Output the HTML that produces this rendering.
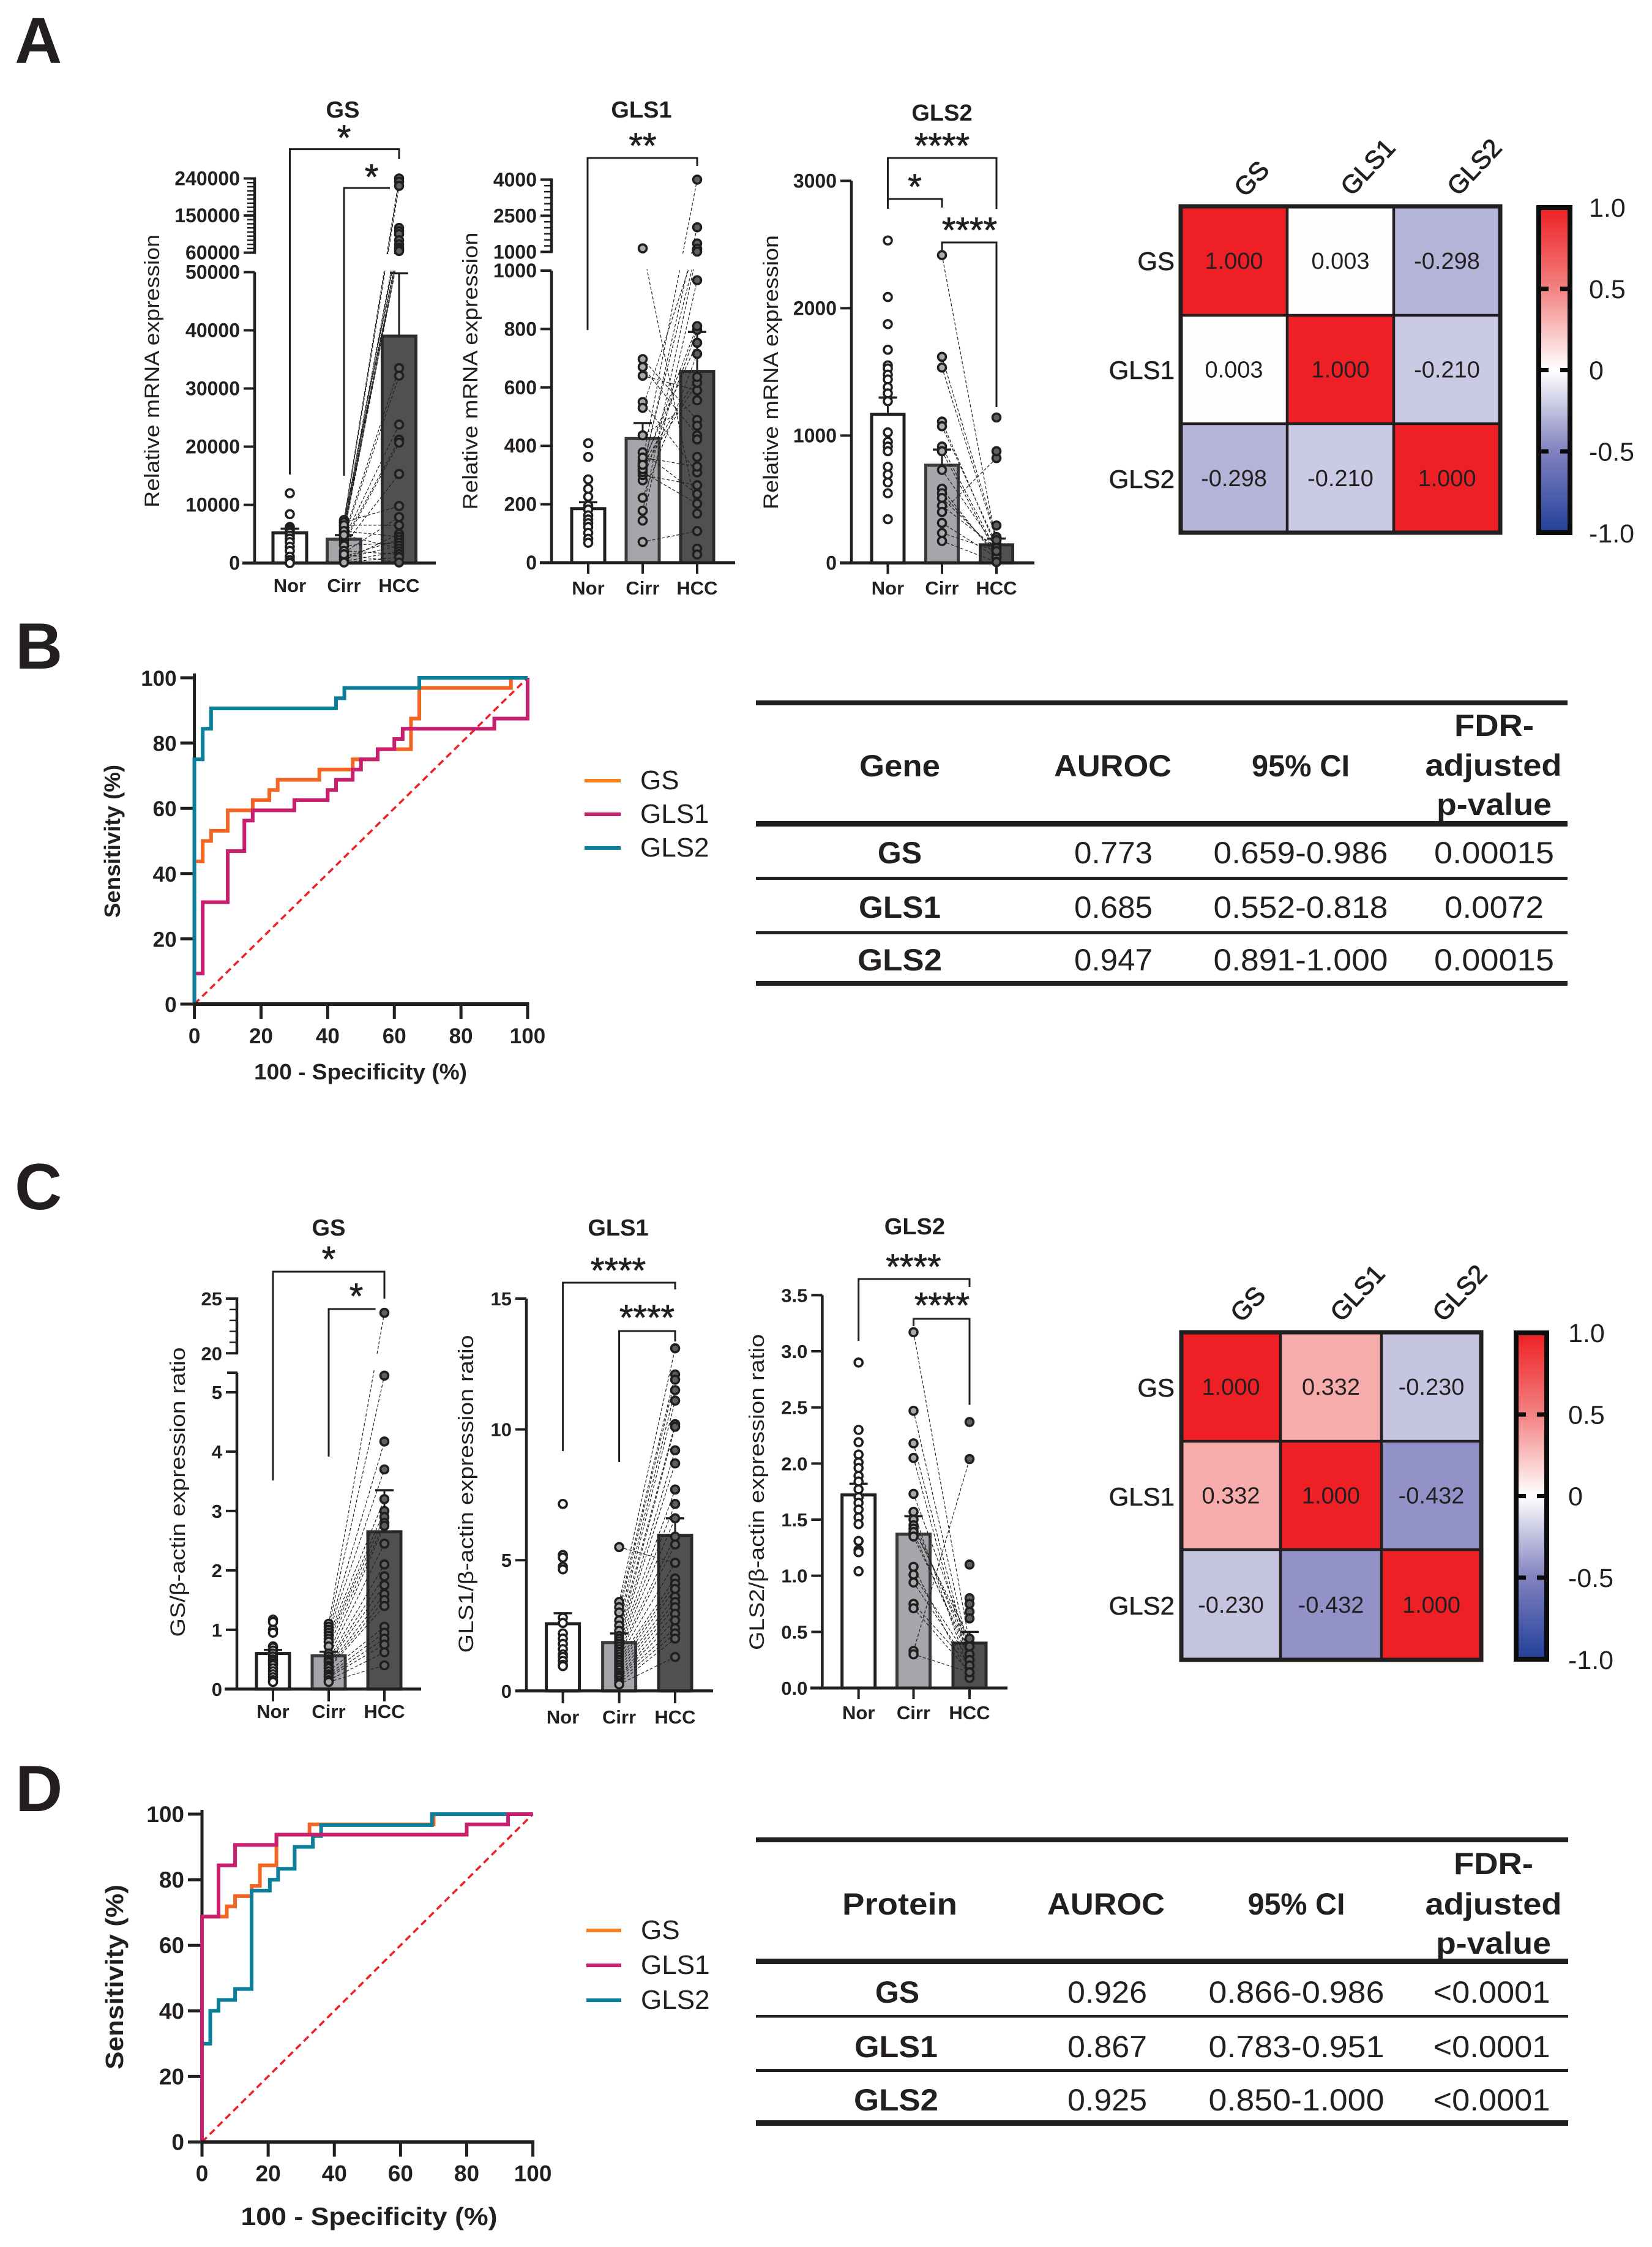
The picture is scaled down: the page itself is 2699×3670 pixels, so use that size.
<!DOCTYPE html>
<html lang="en">
<head>
<meta charset="utf-8">
<title>GS, GLS1 and GLS2 expression figure</title>
<style>
html,body{margin:0;padding:0;background:#fff;}
svg{display:block;font-family:"Liberation Sans",Arial,sans-serif;fill:#231f20;}
</style>
</head>
<body>
<svg id="figure" xmlns="http://www.w3.org/2000/svg" width="2699" height="3670" viewBox="0 0 2699 3670">
<defs>
<linearGradient id="cbar" x1="0" y1="0" x2="0" y2="1">
<stop offset="0" stop-color="#ed2024"/><stop offset="0.25" stop-color="#f38282"/><stop offset="0.5" stop-color="#ffffff"/><stop offset="0.75" stop-color="#8181bf"/><stop offset="1" stop-color="#21409a"/>
</linearGradient>
</defs>
<rect x="0" y="0" width="2699" height="3670" fill="#fff"/>

<text x="24" y="103" font-size="107" font-weight="700">A</text>
<text x="25" y="1092" font-size="107" font-weight="700">B</text>
<text x="24" y="1975" font-size="107" font-weight="700">C</text>
<text x="25" y="2958" font-size="107" font-weight="700">D</text>

<g font-size="44">
<rect x="955" y="1272" width="59" height="6" fill="#f58220"/>
<text x="1046" y="1289">GS</text>
<rect x="955" y="1327" width="59" height="6" fill="#c81e6e"/>
<text x="1046" y="1344">GLS1</text>
<rect x="955" y="1382" width="59" height="6" fill="#0b7f9a"/>
<text x="1046" y="1399">GLS2</text>
</g>
<g font-size="44">
<rect x="958" y="3150" width="57" height="6" fill="#f58220"/>
<text x="1047" y="3167">GS</text>
<rect x="958" y="3207" width="57" height="6" fill="#c81e6e"/>
<text x="1047" y="3224">GLS1</text>
<rect x="958" y="3264" width="57" height="6" fill="#0b7f9a"/>
<text x="1047" y="3281">GLS2</text>
</g>

<g text-anchor="middle" font-size="50">
<rect x="1235" y="1144" width="1326" height="8"/>
<rect x="1235" y="1341" width="1326" height="9"/>
<rect x="1235" y="1432" width="1326" height="5"/>
<rect x="1235" y="1521" width="1326" height="5"/>
<rect x="1235" y="1602" width="1326" height="8"/>
<g font-weight="700">
<text x="1470" y="1268" textLength="132" lengthAdjust="spacingAndGlyphs">Gene</text>
<text x="1818" y="1268" textLength="192" lengthAdjust="spacingAndGlyphs">AUROC</text>
<text x="2125" y="1268" textLength="160" lengthAdjust="spacingAndGlyphs">95% CI</text>
<text x="2441" y="1202" textLength="130" lengthAdjust="spacingAndGlyphs">FDR-</text>
<text x="2440" y="1267" textLength="223" lengthAdjust="spacingAndGlyphs">adjusted</text>
<text x="2441" y="1331" textLength="188" lengthAdjust="spacingAndGlyphs">p-value</text>
<text x="1470" y="1410">GS</text>
<text x="1470" y="1499" textLength="134" lengthAdjust="spacingAndGlyphs">GLS1</text>
<text x="1470" y="1585" textLength="138" lengthAdjust="spacingAndGlyphs">GLS2</text>
</g>
<text x="1819" y="1410" textLength="128" lengthAdjust="spacingAndGlyphs">0.773</text>
<text x="2125" y="1410" textLength="285" lengthAdjust="spacingAndGlyphs">0.659-0.986</text>
<text x="2441" y="1410" textLength="196" lengthAdjust="spacingAndGlyphs">0.00015</text>
<text x="1819" y="1499" textLength="128" lengthAdjust="spacingAndGlyphs">0.685</text>
<text x="2125" y="1499" textLength="285" lengthAdjust="spacingAndGlyphs">0.552-0.818</text>
<text x="2441" y="1499" textLength="162" lengthAdjust="spacingAndGlyphs">0.0072</text>
<text x="1819" y="1585" textLength="128" lengthAdjust="spacingAndGlyphs">0.947</text>
<text x="2125" y="1585" textLength="285" lengthAdjust="spacingAndGlyphs">0.891-1.000</text>
<text x="2441" y="1585" textLength="196" lengthAdjust="spacingAndGlyphs">0.00015</text>
</g>

<g text-anchor="middle" font-size="50">
<rect x="1235" y="3001" width="1327" height="8"/>
<rect x="1235" y="3199" width="1327" height="9"/>
<rect x="1235" y="3291" width="1327" height="4.5"/>
<rect x="1235" y="3379" width="1327" height="5"/>
<rect x="1235" y="3463" width="1327" height="9"/>
<g font-weight="700">
<text x="1470" y="3127" textLength="188" lengthAdjust="spacingAndGlyphs">Protein</text>
<text x="1807" y="3127" textLength="192" lengthAdjust="spacingAndGlyphs">AUROC</text>
<text x="2118" y="3127" textLength="159" lengthAdjust="spacingAndGlyphs">95% CI</text>
<text x="2440" y="3061" textLength="130" lengthAdjust="spacingAndGlyphs">FDR-</text>
<text x="2440" y="3127" textLength="223" lengthAdjust="spacingAndGlyphs">adjusted</text>
<text x="2440" y="3191" textLength="188" lengthAdjust="spacingAndGlyphs">p-value</text>
<text x="1466" y="3271">GS</text>
<text x="1464" y="3360" textLength="136" lengthAdjust="spacingAndGlyphs">GLS1</text>
<text x="1464" y="3447" textLength="138" lengthAdjust="spacingAndGlyphs">GLS2</text>
</g>
<text x="1809" y="3271" textLength="130" lengthAdjust="spacingAndGlyphs">0.926</text>
<text x="2118" y="3271" textLength="287" lengthAdjust="spacingAndGlyphs">0.866-0.986</text>
<text x="2437" y="3271" textLength="191" lengthAdjust="spacingAndGlyphs">&lt;0.0001</text>
<text x="1809" y="3360" textLength="130" lengthAdjust="spacingAndGlyphs">0.867</text>
<text x="2118" y="3360" textLength="287" lengthAdjust="spacingAndGlyphs">0.783-0.951</text>
<text x="2437" y="3360" textLength="191" lengthAdjust="spacingAndGlyphs">&lt;0.0001</text>
<text x="1809" y="3447" textLength="130" lengthAdjust="spacingAndGlyphs">0.925</text>
<text x="2118" y="3447" textLength="287" lengthAdjust="spacingAndGlyphs">0.850-1.000</text>
<text x="2437" y="3447" textLength="191" lengthAdjust="spacingAndGlyphs">&lt;0.0001</text>
</g>
</svg>
<script>
/* ---------- data ---------- */
const categories = ['Nor', 'Cirr', 'HCC'];
const genes = ['GS', 'GLS1', 'GLS2'];

const aGsTicksLower = [0, 10000, 20000, 30000, 40000, 50000];
const aGsTicksUpper = [60000, 150000, 240000];
const aGsMeans = [5200, 4100, 39000];
const aGsErrs = [5900, 4800, 49800];
const aGsNor = [12000, 8400, 6200, 5900, 5600, 5200, 4700, 4200, 3600, 2800, 2100, 1100, 500, 100, 0];
const aGsCirr = [7400, 7200, 7000, 6800, 6500, 6300, 6000, 5800, 5500, 5200, 5000, 4800, 4400, 4200, 3800, 3400, 3100, 7000, 1800, 6500, 500, 5500, 1100, 3000, 800, 4800, 300, 2100, 100, 1500];
const aGsHcc = [240000, 232000, 222000, 120000, 112000, 105000, 90000, 80000, 72000, 68000, 64000, 33500, 32200, 23800, 21200, 20700, 15300, 9800, 7900, 6500, 5000, 4500, 4000, 3500, 3000, 2500, 2000, 1500, 1000, 100];

const aGls1TicksLower = [0, 200, 400, 600, 800, 1000];
const aGls1TicksUpper = [1000, 2500, 4000];
const aGls1Means = [185, 425, 655];
const aGls1Errs = [207, 478, 790];
const aGls1Nor = [409, 362, 285, 253, 226, 195, 182, 162, 148, 135, 122, 102, 82, 68];
const aGls1Cirr = [1146, 697, 670, 640, 550, 530, 436, 378, 349, 329, 316, 282, 222, 178, 144, 71, 300, 330, 340, 360, 310, 320, 335];
const aGls1Hcc = [168, 489, 436, 590, 309, 1350, 556, 235, 4000, 1130, 2020, 797, 715, 1010, 967, 108, 265, 810, 753, 329, 202, 616, 636, 469, 422, 362, 48, 28];

const aGls2Ticks = [0, 1000, 2000, 3000];
const aGls2Means = [1167, 767, 142];
const aGls2Errs = [1299, 890, 191];
const aGls2Nor = [2532, 2088, 1875, 1674, 1551, 1527, 1478, 1441, 1380, 1331, 1270, 1025, 951, 914, 877, 755, 694, 632, 547, 343];
const aGls2Cirr = [2417, 1618, 1534, 1110, 1073, 914, 877, 730, 583, 547, 510, 449, 400, 314, 235, 172];
const aGls2Hcc = [150, 203, 179, 118, 142, 93, 69, 118, 44, 69, 93, 118, 823, 44, 93, 7, 1142, 877, 294, 203, 179];

const cGsTicksLower = [0, 1, 2, 3, 4, 5];
const cGsTicksUpper = [20, 25];
const cGsMeans = [0.6, 0.56, 2.65];
const cGsErrs = [0.66, 0.63, 3.35];
const cGsNor = [1.17, 1.13, 1.0, 0.95, 0.72, 0.7, 0.65, 0.6, 0.55, 0.5, 0.47, 0.43, 0.4, 0.35, 0.3, 0.25, 0.2, 0.15, 0.12];
const cGsCirr = [1.1, 1.05, 1.0, 0.95, 0.9, 0.85, 0.8, 0.72, 0.6, 0.55, 0.5, 0.47, 0.45, 0.4, 0.37, 0.35, 0.3, 0.25, 0.22, 0.2, 0.15, 0.12];
const cGsHcc = [23.7, 5.28, 4.17, 3.7, 3.2, 3.0, 2.9, 2.8, 2.75, 2.45, 2.1, 1.9, 1.75, 1.6, 1.5, 1.4, 1.05, 0.95, 0.85, 0.75, 0.62, 0.4];

const cGls1Ticks = [0, 5, 10, 15];
const cGls1Means = [2.57, 1.85, 5.95];
const cGls1Errs = [2.97, 2.2, 6.6];
const cGls1Nor = [7.15, 5.2, 5.1, 4.75, 4.65, 2.8, 2.6, 2.2, 2.0, 1.8, 1.6, 1.4, 1.3, 1.15, 1.0, 0.95];
const cGls1Cirr = [3.4, 3.2, 3.0, 2.7, 2.5, 2.3, 2.1, 2.0, 1.9, 1.8, 1.7, 1.6, 1.5, 1.4, 1.3, 1.2, 1.1, 1.0, 0.9, 5.5, 0.8, 0.7, 0.6, 0.55, 0.5, 0.4, 0.3, 0.25];
const cGls1Hcc = [13.1, 12.1, 11.9, 11.5, 11.1, 10.2, 10.1, 9.2, 8.7, 7.7, 7.15, 6.6, 5.9, 5.6, 4.9, 4.3, 4.1, 3.9, 3.6, 4.9, 3.4, 3.2, 2.95, 2.7, 2.4, 2.2, 2.0, 1.3];

const cGls2Ticks = [0, 0.5, 1, 1.5, 2, 2.5, 3, 3.5];
const cGls2TickLabels = ['0.0', '0.5', '1.0', '1.5', '2.0', '2.5', '3.0', '3.5'];
const cGls2Means = [1.72, 1.37, 0.4];
const cGls2Errs = [1.82, 1.53, 0.5];
const cGls2Nor = [2.9, 2.3, 2.19, 2.08, 2.01, 1.96, 1.89, 1.84, 1.77, 1.7, 1.65, 1.59, 1.52, 1.46, 1.31, 1.23, 1.21, 1.04];
const cGls2Cirr = [3.17, 2.47, 2.18, 2.05, 1.73, 1.57, 1.5, 1.45, 1.42, 1.39, 1.35, 1.08, 1.01, 0.94, 0.75, 0.71, 0.33, 0.3];
const cGls2Hcc = [0.4, 0.3, 0.25, 0.2, 0.37, 0.14, 0.3, 0.37, 0.44, 0.25, 0.3, 0.09, 0.25, 0.2, 0.2, 0.14, 2.04, 0.14, 2.37, 1.1, 0.8, 0.75, 0.68, 0.62];

const rocTicks = [0, 20, 40, 60, 80, 100];
const bGsX = [0, 2.5, 5, 10, 17.5, 22.5, 25, 37.5, 47.5, 55, 65, 67.5, 95, 100];
const bGsY = [43.75, 50, 53.125, 59.375, 62.5, 65.625, 68.75, 71.875, 75, 78.125, 87.5, 96.875, 100, 100];
const bGls1X = [0, 2.5, 10, 15, 17.5, 30, 40, 42.5, 47.5, 50, 55, 60, 62.5, 90, 100];
const bGls1Y = [9.375, 31.25, 46.875, 56.25, 59.375, 62.5, 65.625, 68.75, 71.875, 75, 78.125, 81.25, 84.375, 87.5, 100];
const bGls2X = [0, 2.5, 5, 42.5, 45, 67.5, 100];
const bGls2Y = [75, 84.375, 90.625, 93.75, 96.875, 100, 100];
const dGsX = [0, 7.5, 10, 15, 17.5, 22.5, 32.5, 70, 100];
const dGsY = [68.75, 71.875, 75, 78.125, 84.375, 93.75, 96.875, 100, 100];
const dGls1X = [0, 5, 10, 22.5, 80, 92.5, 100];
const dGls1Y = [68.75, 84.375, 90.625, 93.75, 96.875, 100, 100];
const dGls2X = [0, 2.5, 5, 10, 15, 20.5, 23, 28, 33.5, 36, 69.5, 100];
const dGls2Y = [30, 40, 43.33, 46.67, 76.67, 80, 83.33, 90, 93.33, 96.67, 100, 100];

const hmAValues = [[1, 0.003, -0.298], [0.003, 1, -0.21], [-0.298, -0.21, 1]];
const hmCValues = [[1, 0.332, -0.23], [0.332, 1, -0.432], [-0.23, -0.432, 1]];
const colorbarTicks = [1, 0.5, 0, -0.5, -1];
const colorbarLabels = ['1.0', '0.5', '0', '-0.5', '-1.0'];

/* ---------- helpers ---------- */
const svg = document.getElementById('figure');
const INK = '#231f20';
function mk(tag, name, attrs) {
  const el = document.createElementNS('http://www.w3.org/2000/svg', tag);
  for (const k in attrs) el.setAttribute(k, attrs[k]);
  
  
  svg.appendChild(el);
  return el;
}
function seg(name, x1, y1, x2, y2, w, color) {
  return mk('line', name, { x1: x1, y1: y1, x2: x2, y2: y2, stroke: color || INK, 'stroke-width': w });
}
function txt(name, s, x, y, size, opts) {
  const o = opts || {};
  const a = { x: x, y: y, 'font-size': size, 'text-anchor': o.anchor || 'middle' };
  if (o.weight) a['font-weight'] = o.weight;
  if (o.len) { a.textLength = o.len; a.lengthAdjust = 'spacingAndGlyphs'; }
  if (o.transform) a.transform = o.transform;
  if (o.stroke) { a.stroke = INK; a['stroke-width'] = o.stroke; }
  const el = mk('text', name, a);
  el.textContent = s;
  return el;
}
function bracket(name, pts) {
  return mk('polyline', name, { points: pts.map(p => p.join(',')).join(' '), fill: 'none', stroke: INK, 'stroke-width': 3 });
}
function stars(name, s, x, yc) {
  return txt(name, s, x, yc + 28, 58, { stroke: 0.8 });
}
function brokenScale(lo, hi) {
  const low = v => lo.y0 + (lo.yMax - lo.y0) * v / lo.max;
  const high = hi ? v => hi.y0 + (hi.y1 - hi.y0) * (v - hi.min) / (hi.max - hi.min) : null;
  const f = v => (hi && v > lo.max) ? high(v) : low(v);
  f.low = low;
  f.high = high;
  return f;
}

/* ---------- bar panels ---------- */
function barPanel(c) {
  const id = c.id;
  const y = c.scale;
  const fills = ['#ffffff', '#a4a6a9', '#4f5150'];
  const strokes = [INK, '#3a3a3c', '#2b2b2b'];
  const pointFills = ['#ffffff', '#a7a9ac', '#5d5f60'];
  c.centers.forEach((cx, i) => {
    mk('rect', id + '-bar-' + categories[i].toLowerCase(), { x: cx - c.barW / 2 + 2, y: y(c.means[i]), width: c.barW - 4, height: y(0) - y(c.means[i]), fill: fills[i], stroke: strokes[i], 'stroke-width': 5 });
    seg(id + '-error-bar', cx, y(c.means[i]), cx, y(c.errs[i]), 3);
    seg(id + '-error-cap', cx - 15, y(c.errs[i]), cx + 15, y(c.errs[i]), 3.5);
  });
  const n = Math.min(c.cirr.length, c.hcc.length);
  for (let i = 0; i < n; i++) {
    const l = seg(id + '-paired-line', c.centers[1], y(c.cirr[i]), c.centers[2], y(c.hcc[i]), 1.2);
    l.setAttribute('stroke-dasharray', '5 3');
  }
  if (c.gap) mk('rect', id + '-axis-break', { x: c.axisX + 4, y: c.gap[0], width: c.axisR - c.axisX, height: c.gap[1] - c.gap[0], fill: '#fff' });

  /* axes */
  seg(id + '-x-axis', c.axisL, y(0), c.axisR, y(0), 5);
  const top = c.axisTop !== undefined ? c.axisTop : y(c.ticksLower[c.ticksLower.length - 1]);
  seg(id + '-y-axis', c.axisX, y(0) + 2, c.axisX, top, 4.5);
  if (c.axisTop !== undefined) seg(id + '-y-cap', c.axisX - 16, c.axisTop, c.axisX + 1, c.axisTop, 4);
  c.ticksLower.forEach((v, i) => {
    seg(id + '-y-tick', c.axisX - 18, y.low(v), c.axisX, y.low(v), 4);
    txt(id + '-y-tick-label', c.tickLabels ? c.tickLabels[i] : String(v), c.axisX - 24, y.low(v) + 11, c.tickSize || 32, { anchor: 'end', weight: 700 });
  });
  if (c.ticksUpper) {
    seg(id + '-y-axis-upper', c.axisX, y.high(c.ticksUpper[0]) + 2, c.axisX, y.high(c.ticksUpper[c.ticksUpper.length - 1]) - 2, 4.5);
    for (let m = c.ticksUpper[0]; m <= c.ticksUpper[c.ticksUpper.length - 1]; m += c.minorStep) {
      seg(id + '-y-minor-tick', c.axisX - 12, y.high(m), c.axisX, y.high(m), 2.5);
    }
    c.ticksUpper.forEach(v => {
      seg(id + '-y-tick', c.axisX - 18, y.high(v), c.axisX, y.high(v), 4);
      txt(id + '-y-tick-label', String(v), c.axisX - 24, y.high(v) + 11, c.tickSize || 32, { anchor: 'end', weight: 700 });
    });
  }
  c.centers.forEach((cx, i) => {
    if (c.xTick) seg(id + '-x-tick', cx, y(0), cx, y(0) + c.xTick, 4);
    txt(id + '-x-label-' + categories[i].toLowerCase(), categories[i], cx, c.xLabelY, 31, { weight: 700 });
  });
  txt(id + '-y-axis-title', c.yTitle, c.yTitleX, c.yTitleY, 34, { len: c.yTitleLen, transform: 'rotate(-90 ' + c.yTitleX + ' ' + c.yTitleY + ')' });
  txt(id + '-title', c.title, c.titleX, c.titleY, 38, { weight: 700 });
  c.brackets.forEach(b => bracket(id + '-significance-bracket', b));
  c.stars.forEach(s => stars(id + '-significance-stars', s[0], s[1], s[2]));

  /* points */
  [c.nor, c.cirr, c.hcc].forEach((vals, g) => {
    vals.forEach(v => {
      mk('circle', id + '-point-' + categories[g].toLowerCase(), { cx: c.centers[g], cy: y(v), r: 6.5, fill: pointFills[g], stroke: '#1f1f1f', 'stroke-width': 3.6 });
    });
  });
}

barPanel({
  id: 'a-gs', title: 'GS', titleX: 560, titleY: 192, axisX: 416, axisL: 396, axisR: 712, centers: [473.5, 562, 652], barW: 59,
  scale: brokenScale({ y0: 919.6, yMax: 444.5, max: 50000 }, { y0: 412.6, y1: 291.5, min: 60000, max: 240000 }),
  ticksLower: aGsTicksLower, ticksUpper: aGsTicksUpper, minorStep: 10000, gap: [415, 442],
  means: aGsMeans, errs: aGsErrs, nor: aGsNor, cirr: aGsCirr, hcc: aGsHcc,
  xTick: 0, xLabelY: 967, yTitle: 'Relative mRNA expression', yTitleX: 260, yTitleY: 606, yTitleLen: 446,
  brackets: [[[473.5, 775], [473.5, 243.6], [652, 243.6], [652, 260]], [[562, 777], [562, 307], [637, 307]]],
  stars: [['*', 562, 217], ['*', 607, 281]]
});
barPanel({
  id: 'a-gls1', title: 'GLS1', titleX: 1048, titleY: 192, axisX: 901, axisL: 882, axisR: 1201, centers: [961, 1050, 1139], barW: 58,
  scale: brokenScale({ y0: 919, yMax: 442, max: 1000 }, { y0: 411.4, y1: 293.4, min: 1000, max: 4000 }),
  ticksLower: aGls1TicksLower, ticksUpper: aGls1TicksUpper, minorStep: 250, gap: [414, 440],
  means: aGls1Means, errs: aGls1Errs, nor: aGls1Nor, cirr: aGls1Cirr, hcc: aGls1Hcc,
  xTick: 18, xLabelY: 971, yTitle: 'Relative mRNA expression', yTitleX: 780, yTitleY: 606, yTitleLen: 453,
  brackets: [[[960, 539], [960, 258], [1139, 258], [1139, 271]]],
  stars: [['**', 1050, 230]]
});
barPanel({
  id: 'a-gls2', title: 'GLS2', titleX: 1539, titleY: 197, axisX: 1391, axisL: 1372, axisR: 1690, centers: [1450.5, 1539, 1628], barW: 57,
  scale: brokenScale({ y0: 919.4, yMax: 295.4, max: 3000 }),
  ticksLower: aGls2Ticks,
  means: aGls2Means, errs: aGls2Errs, nor: aGls2Nor, cirr: aGls2Cirr, hcc: aGls2Hcc,
  xTick: 18, xLabelY: 971, yTitle: 'Relative mRNA expression', yTitleX: 1271, yTitleY: 608, yTitleLen: 448,
  brackets: [[[1450.5, 341], [1450.5, 258], [1628, 258], [1628, 341]], [[1450.5, 325], [1539, 325], [1539, 339]], [[1539, 410], [1539, 396], [1628, 396], [1628, 665]]],
  stars: [['****', 1539, 230], ['*', 1494.5, 297], ['****', 1584, 368]]
});
barPanel({
  id: 'c-gs', title: 'GS', titleX: 537, titleY: 2018, axisX: 387, axisL: 367, axisR: 688, centers: [446, 537, 628], barW: 58, tickSize: 31,
  scale: brokenScale({ y0: 2758.8, yMax: 2240, max: 5.35 }, { y0: 2210.3, y1: 2121, min: 20, max: 25 }),
  ticksLower: cGsTicksLower, ticksUpper: cGsTicksUpper, minorStep: 1, gap: [2213, 2238], axisTop: 2242,
  means: cGsMeans, errs: cGsErrs, nor: cGsNor, cirr: cGsCirr, hcc: cGsHcc,
  xTick: 20, xLabelY: 2806, yTitle: 'GS/β-actin expression ratio', yTitleX: 302, yTitleY: 2437, yTitleLen: 473,
  brackets: [[[446, 2418], [446, 2077], [628, 2077], [628, 2121]], [[537, 2379], [537, 2138], [613.6, 2138]]],
  stars: [['*', 537, 2048.5], ['*', 582, 2109]]
});
barPanel({
  id: 'c-gls1', title: 'GLS1', titleX: 1010, titleY: 2018, axisX: 860, axisL: 841.6, axisR: 1165, centers: [919.6, 1011.6, 1103], barW: 58, tickSize: 31,
  scale: brokenScale({ y0: 2761.8, yMax: 2121, max: 15 }),
  ticksLower: cGls1Ticks,
  means: cGls1Means, errs: cGls1Errs, nor: cGls1Nor, cirr: cGls1Cirr, hcc: cGls1Hcc,
  xTick: 20, xLabelY: 2815, yTitle: 'GLS1/β-actin expression ratio', yTitleX: 773, yTitleY: 2440, yTitleLen: 519,
  brackets: [[[919.6, 2370], [919.6, 2095], [1103, 2095], [1103, 2106]], [[1011.6, 2388], [1011.6, 2174], [1103, 2174], [1103, 2191]]],
  stars: [['****', 1010, 2067], ['****', 1057, 2144]]
});
barPanel({
  id: 'c-gls2', title: 'GLS2', titleX: 1494.4, titleY: 2016, axisX: 1343.4, axisL: 1324, axisR: 1646, centers: [1402.7, 1492.5, 1584], barW: 58, tickSize: 31, tickLabels: cGls2TickLabels,
  scale: brokenScale({ y0: 2757, yMax: 2115.4, max: 3.5 }),
  ticksLower: cGls2Ticks,
  means: cGls2Means, errs: cGls2Errs, nor: cGls2Nor, cirr: cGls2Cirr, hcc: cGls2Hcc,
  xTick: 18, xLabelY: 2808, yTitle: 'GLS2/β-actin expression ratio', yTitleX: 1248, yTitleY: 2437, yTitleLen: 516,
  brackets: [[[1402.7, 2190], [1402.7, 2089], [1584, 2089], [1584, 2102]], [[1492.5, 2166], [1492.5, 2154], [1584, 2154], [1584, 2294.5]]],
  stars: [['****', 1492.5, 2061], ['****', 1539, 2124]]
});

/* ---------- ROC panels ---------- */
function stepPoints(xs, ys) {
  const pts = [[xs[0], 0]];
  xs.forEach((x, i) => {
    if (i > 0) pts.push([x, ys[i - 1]]);
    pts.push([x, ys[i]]);
  });
  return pts;
}
function rocPanel(c) {
  const id = c.id;
  const X = v => c.x0 + (c.x100 - c.x0) * v / 100;
  const Y = v => c.y0 + (c.y100 - c.y0) * v / 100;
  const diag = seg(id + '-reference-diagonal', X(0), Y(0), X(100), Y(100), 3.5, '#ed2024');
  diag.setAttribute('stroke-dasharray', '11 7');
  seg(id + '-y-axis', X(0), Y(0), X(0), Y(100) - 7, 5);
  rocTicks.forEach(v => {
    seg(id + '-y-tick', X(0) - 23, Y(v), X(0), Y(v), 5);
    txt(id + '-y-tick-label', String(v), X(0) - 29, Y(v) + 13, c.tickSize, { anchor: 'end', weight: 700 });
    seg(id + '-x-tick', X(v), Y(0), X(v), Y(0) + 24, 5);
    txt(id + '-x-tick-label', String(v), X(v), Y(0) + 64, c.tickSize, { weight: 700 });
  });
  c.series.forEach(s => {
    mk('polyline', id + '-roc-curve-' + s.name, {
      points: stepPoints(s.x, s.y).map(p => X(p[0]) + ',' + Y(p[1])).join(' '),
      fill: 'none', stroke: s.color, 'stroke-width': 6, 'stroke-linejoin': 'miter'
    });
  });
  mk('rect', id + '-x-axis', { x: X(0) - 2.5, y: Y(0) - 3, width: X(100) - X(0) + 5, height: 6, fill: INK });
  txt(id + '-x-axis-title', '100 - Specificity (%)', c.xTitleX, c.xTitleY, c.titleSize, { weight: 700, len: c.xTitleLen });
  txt(id + '-y-axis-title', 'Sensitivity (%)', c.yTitleX, c.yTitleY, c.titleSize, { weight: 700, len: c.yTitleLen, transform: 'rotate(-90 ' + c.yTitleX + ' ' + c.yTitleY + ')' });
}
const ORANGE = '#f26522';
const MAGENTA = '#c81e6e';
const TEAL = '#0b7f9a';
rocPanel({
  id: 'b', x0: 317.6, x100: 862, y0: 1640, y100: 1107, tickSize: 35, titleSize: 36,
  xTitleX: 589, xTitleY: 1763, xTitleLen: 348, yTitleX: 196, yTitleY: 1374, yTitleLen: 250,
  series: [{ name: 'gs', x: bGsX, y: bGsY, color: ORANGE }, { name: 'gls1', x: bGls1X, y: bGls1Y, color: MAGENTA }, { name: 'gls2', x: bGls2X, y: bGls2Y, color: TEAL }]
});
rocPanel({
  id: 'd', x0: 330, x100: 870.6, y0: 3498.5, y100: 2963, tickSize: 37, titleSize: 41,
  xTitleX: 603, xTitleY: 3634, xTitleLen: 419, yTitleX: 201, yTitleY: 3229, yTitleLen: 302,
  series: [{ name: 'gs', x: dGsX, y: dGsY, color: ORANGE }, { name: 'gls2', x: dGls2X, y: dGls2Y, color: TEAL }, { name: 'gls1', x: dGls1X, y: dGls1Y, color: MAGENTA }]
});

/* ---------- heatmaps ---------- */
function mix(a, b, t) {
  return 'rgb(' + a.map((v, i) => Math.round(v + (b[i] - v) * t)).join(',') + ')';
}
function heatColor(v) {
  const white = [255, 255, 255], pink = [243, 130, 130], red = [238, 32, 38], lav = [129, 129, 191], navy = [33, 64, 154];
  if (v >= 0.5) return mix(pink, red, (v - 0.5) * 2);
  if (v >= 0) return mix(white, pink, v * 2);
  if (v >= -0.5) return mix(white, lav, -v * 2);
  return mix(lav, navy, (-v - 0.5) * 2);
}
function heatmap(c) {
  const id = c.id;
  c.values.forEach((row, r) => {
    row.forEach((v, k) => {
      mk('rect', id + '-cell', { x: c.xs[k], y: c.ys[r], width: c.xs[k + 1] - c.xs[k], height: c.ys[r + 1] - c.ys[r], fill: heatColor(v) });
      txt(id + '-cell-value', v.toFixed(3), (c.xs[k] + c.xs[k + 1]) / 2, (c.ys[r] + c.ys[r + 1]) / 2 + 13, 38);
    });
  });
  [1, 2].forEach(i => {
    seg(id + '-grid-line', c.xs[i], c.ys[0], c.xs[i], c.ys[3], 4.5);
    seg(id + '-grid-line', c.xs[0], c.ys[i], c.xs[3], c.ys[i], 4.5);
  });
  mk('rect', id + '-frame', { x: c.xs[0], y: c.ys[0], width: c.xs[3] - c.xs[0], height: c.ys[3] - c.ys[0], fill: 'none', stroke: INK, 'stroke-width': 7 });
  genes.forEach((g, i) => {
    txt(id + '-row-label-' + g.toLowerCase(), g, c.rowX, c.rowY[i] + 15, 42, { anchor: 'end', stroke: 0.6 });
    txt(id + '-column-label-' + g.toLowerCase(), g, c.colX[i], c.colY[i] + 14, 42, { transform: 'rotate(-47 ' + c.colX[i] + ' ' + c.colY[i] + ')', stroke: 1 });
  });
  const b = c.bar;
  mk('rect', id + '-colorbar', { x: b.x, y: b.y, width: b.w, height: b.h, fill: 'url(#cbar)', stroke: '#0d0d0d', 'stroke-width': 8 });
  const by = v => b.y + b.h * (1 - v) / 2;
  colorbarTicks.forEach((v, i) => {
    if (Math.abs(v) < 1) {
      seg(id + '-colorbar-tick', b.x, by(v), b.x + 16, by(v), 7, '#0d0d0d');
      seg(id + '-colorbar-tick', b.x + b.w - 16, by(v), b.x + b.w, by(v), 7, '#0d0d0d');
    }
    const dy = v === -1 ? 1 : 0;
    txt(id + '-colorbar-label', colorbarLabels[i], b.labelX, by(v) + dy + 15, 43, { anchor: 'start' });
  });
}
heatmap({
  id: 'a-heatmap', values: hmAValues, xs: [1929, 2103, 2277, 2451], ys: [337, 515, 692, 870],
  rowX: 1919, rowY: [426, 604, 782], colX: [2045, 2235, 2409], colY: [292, 273, 273],
  bar: { x: 2514, y: 339, w: 51, h: 531, labelX: 2596 }
});
heatmap({
  id: 'c-heatmap', values: hmCValues, xs: [1930, 2092, 2257, 2420], ys: [2176, 2354, 2531, 2711],
  rowX: 1919, rowY: [2266, 2444, 2622], colX: [2039, 2218, 2385], colY: [2130, 2112, 2112],
  bar: { x: 2477, y: 2177, w: 50, h: 533, labelX: 2562 }
});
</script>
</body>
</html>
